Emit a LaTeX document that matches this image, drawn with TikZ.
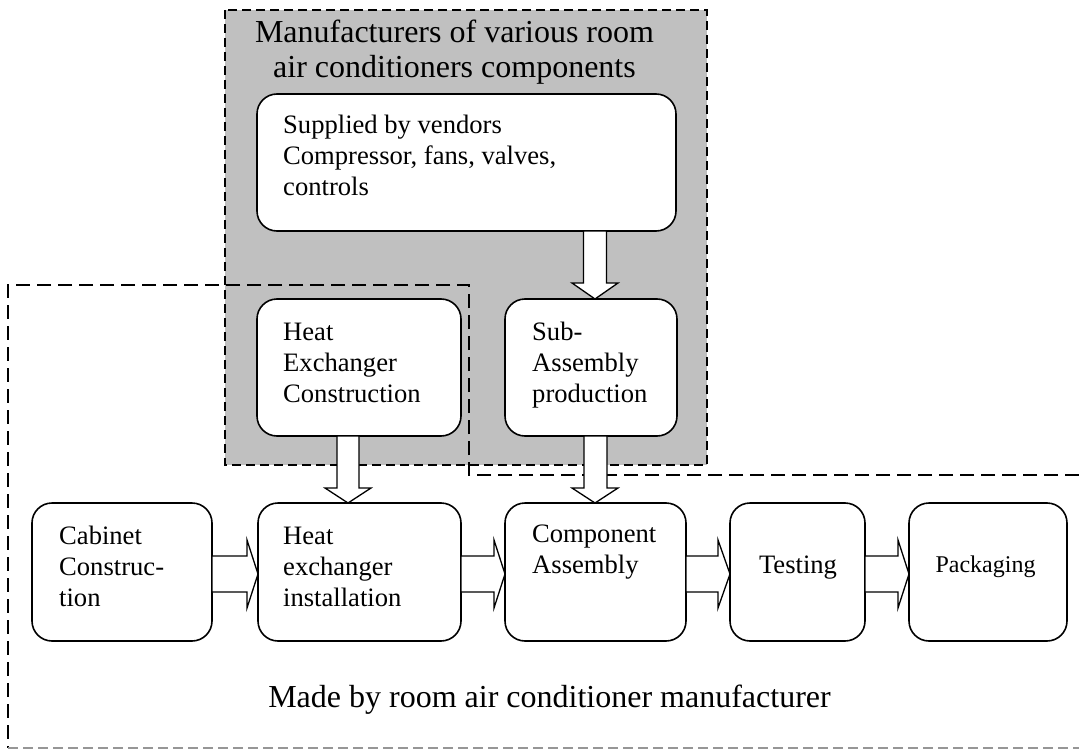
\documentclass[tikz,border=0pt]{standalone}
\usepackage{fontspec}
\setmainfont{Liberation Serif}
\definecolor{panelgray}{RGB}{192,192,192}
\definecolor{linegray}{RGB}{150,150,150}
\begin{document}
\begin{tikzpicture}[x=1pt,y=-1pt,
  box/.style={draw=black, fill=white, line width=1.6pt, rounded corners=20pt, inner sep=0pt, outer sep=0pt, minimum height=137pt},
  blockarrow/.style={draw=black, fill=white, line width=1.3pt, line join=miter},
  txt/.style={font=\fontsize{26.6}{31}\selectfont, inner sep=0pt, align=left, anchor=base west},
  big/.style={font=\fontsize{32}{35}\selectfont, inner sep=0pt, align=center, anchor=base},
  graybox/.style={fill=panelgray, draw=black, line width=1.2pt, dash pattern=on 9pt off 5pt},
  outerline/.style={draw=black, line width=1.4pt, dash pattern=on 14pt off 7pt},
  bottomline/.style={draw=linegray, line width=1.4pt, dash pattern=on 10pt off 5pt},
]
\useasboundingbox (0,0) rectangle (1079,749);
\fill[white] (0,0) rectangle (1079,749);
% regions
\draw[graybox] (225,10) rectangle (707,465);
\draw[outerline] (1079,475) -- (469,475) -- (469,285) -- (8,285) -- (8,748);
\draw[bottomline] (8,748) -- (1079,748);
% boxes
\node[box, minimum width=419pt] (sup) at (466.5,162.5) {};
\node[box, minimum width=204pt] (hec) at (359,367.5) {};
\node[box, minimum width=172pt] (sa) at (591,367.5) {};
\node[box, minimum width=180pt, minimum height=138pt] (cab) at (122,572) {};
\node[box, minimum width=203pt, minimum height=138pt] (hei) at (359.5,572) {};
\node[box, minimum width=181pt, minimum height=138pt] (ca) at (595.5,572) {};
\node[box, minimum width=135pt, minimum height=138pt] (test) at (797.5,572) {};
\node[box, minimum width=158pt, minimum height=138pt] (pack) at (988,572) {};
% texts (multi-line nodes: base = last line's baseline)
\node[big] (title) at (454.5,78) {Manufacturers of various room\\air conditioners components};
\node[txt] (supt) at (283,195) {Supplied by vendors\\Compressor, fans, valves,\\controls};
\node[txt] (hect) at (283,402) {Heat\\Exchanger\\Construction};
\node[txt] (sat) at (532,402) {Sub-\\Assembly\\production};
\node[txt] (cabt) at (59,606) {Cabinet\\Construc-\\tion};
\node[txt] (heit) at (283,606) {Heat\\exchanger\\installation};
\node[txt] (cat) at (532,573) {Component\\Assembly};
\node[txt, anchor=base] (testt) at (798,573) {Testing};
\node[font=\fontsize{24}{28}\selectfont, inner sep=0pt, anchor=base] (packt) at (985.5,572) {Packaging};
\node[big] (bottomt) at (549.5,707) {Made by room air conditioner manufacturer};
% vertical block arrows
\draw[blockarrow] (583.5,0 |- sup.south) -- (583.5,283) -- (572,283) -- (595,0 |- sa.north) -- (618,283) -- (606.5,283) -- (606.5,0 |- sup.south) -- cycle;
\draw[blockarrow] (337,0 |- hec.south) -- (337,488) -- (325,488) -- (348,0 |- hei.north) -- (371,488) -- (359,488) -- (359,0 |- hec.south) -- cycle;
\draw[blockarrow] (584,0 |- sa.south) -- (584,488) -- (572,488) -- (595,0 |- ca.north) -- (618,488) -- (607,488) -- (607,0 |- sa.south) -- cycle;
% horizontal block arrows
\draw[blockarrow] (cab.east |- 0,556) -- (247,556) -- (247,540) -- (hei.west |- 0,574) -- (247,608) -- (247,592) -- (cab.east |- 0,592) -- cycle;
\draw[blockarrow] (hei.east |- 0,556) -- (494,556) -- (494,540) -- (ca.west |- 0,574) -- (494,608) -- (494,592) -- (hei.east |- 0,592) -- cycle;
\draw[blockarrow] (ca.east |- 0,556) -- (718,556) -- (718,540) -- (test.west |- 0,574) -- (718,608) -- (718,592) -- (ca.east |- 0,592) -- cycle;
\draw[blockarrow] (test.east |- 0,556) -- (898,556) -- (898,540) -- (pack.west |- 0,574) -- (898,608) -- (898,592) -- (test.east |- 0,592) -- cycle;
\end{tikzpicture}
\end{document}
